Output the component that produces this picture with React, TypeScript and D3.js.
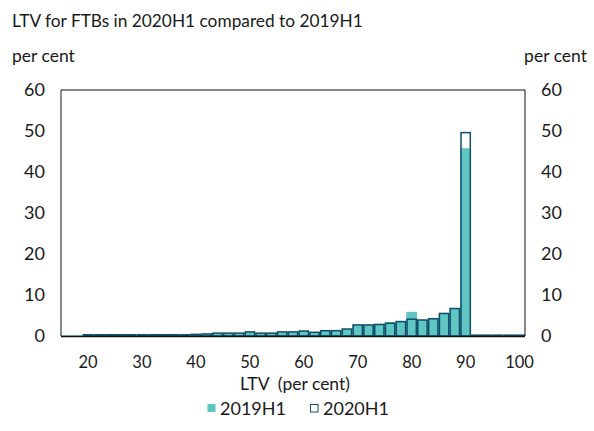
import React from "react";
import * as d3 from "d3";

const categories: number[] = d3.range(16, 101, 2);
const series2019: number[] = [
  0.2, 0.2, 0.3, 0.3, 0.3, 0.3, 0.3, 0.3, 0.3, 0.3, 0.3, 0.3, 0.4, 0.5, 0.7, 0.7, 0.7, 1.0, 0.7, 0.7,
  1.0, 1.0, 1.3, 0.9, 1.3, 1.3, 1.7, 2.7, 2.7, 3.0, 3.4, 3.7, 5.9, 3.9, 4.4, 5.5, 6.7, 45.8,
  0.2, 0.2, 0.2, 0.2, 0.2,
];
const series2020: number[] = [
  0.0, 0.0, 0.3, 0.3, 0.3, 0.3, 0.3, 0.3, 0.3, 0.3, 0.3, 0.3, 0.4, 0.5, 0.7, 0.7, 0.7, 1.0, 0.7, 0.7,
  1.0, 1.0, 1.2, 0.9, 1.3, 1.3, 1.7, 2.7, 2.7, 2.8, 3.1, 3.5, 4.1, 3.9, 4.2, 5.5, 6.7, 49.6,
  0.2, 0.2, 0.2, 0.2, 0.2,
];
const yTicks: number[] = [0, 10, 20, 30, 40, 50, 60];
const xTickLabels: number[] = [20, 30, 40, 50, 60, 70, 80, 90, 100];

const W = 594;
const H = 431;
const M = { left: 61, right: 525, top: 90, bottom: 336 };
const TEAL = "#5fc6c1";
const DARK = "#0e4d6b";
const FONT = "Lato, 'Open Sans', sans-serif";
const TXT = "#1a1a1a";

export default function App() {
  const x = d3
    .scaleBand<number>()
    .domain(categories)
    .range([M.left, M.right])
    .paddingInner(0)
    .paddingOuter(0);
  const y = d3.scaleLinear().domain([0, 60]).range([M.bottom, M.top]);
  const bw = x.bandwidth();

  return (
    <svg
      width={W}
      height={H}
      style={{ position: "absolute", left: 0, top: 0 }}
      fontFamily={FONT}
    >
      <rect width={W} height={H} fill="#fff" />
      <text x={12} y={27} fontSize={17.3} fill={TXT}>
        LTV for FTBs in 2020H1 compared to 2019H1
      </text>
      <text x={12} y={62} fontSize={17.5} fill={TXT}>
        per cent
      </text>
      <text x={587} y={62} fontSize={17.5} fill={TXT} textAnchor="end">
        per cent
      </text>

      {categories.map((c, i) => (
        <rect
          key={"a" + c}
          x={x(c)!}
          y={y(series2019[i])}
          width={bw}
          height={y(0) - y(series2019[i])}
          fill={TEAL}
        />
      ))}
      {categories.map((c, i) =>
        series2020[i] > 0 ? (
          <rect
            key={"b" + c}
            x={x(c)! + 0.75}
            y={y(series2020[i])}
            width={bw - 1.5}
            height={y(0) - y(series2020[i])}
            fill="none"
            stroke={DARK}
            strokeWidth={1.5}
          />
        ) : null
      )}

      <line x1={M.left} x2={M.right} y1={M.top} y2={M.top} stroke="#111" strokeWidth={1} />
      <line x1={M.left} x2={M.left} y1={M.top} y2={M.bottom} stroke="#111" strokeWidth={1} />
      <line x1={M.right} x2={M.right} y1={M.top} y2={M.bottom} stroke="#111" strokeWidth={1} />
      <line x1={M.left} x2={M.right} y1={M.bottom + 0.5} y2={M.bottom + 0.5} stroke="#111" strokeWidth={1.5} />

      {yTicks.map((t) => (
        <g key={"y" + t}>
          <text x={45} y={y(t)} dy="0.35em" fontSize={18} textAnchor="end" fill={TXT}>
            {t}
          </text>
          <text x={541} y={y(t)} dy="0.35em" fontSize={18} textAnchor="start" fill={TXT}>
            {t}
          </text>
        </g>
      ))}
      {xTickLabels.map((t) => (
        <text
          key={"x" + t}
          x={x(t)! + bw / 2}
          y={362}
          dy="0.35em"
          fontSize={16.5}
          textAnchor="middle"
          fill={TXT}
        >
          {t}
        </text>
      ))}
      <text x={295} y={384} dy="0.35em" fontSize={17.5} textAnchor="middle" fill={TXT}>
        {"LTV\u00a0 (per cent)"}
      </text>

      <rect x={207.5} y={404} width={8} height={8} fill={TEAL} />
      <text x={220} y={409} dy="0.35em" fontSize={18} fill={TXT}>
        2019H1
      </text>
      <rect x={310.5} y={404.5} width={7.5} height={7.5} fill="none" stroke={DARK} strokeWidth={1} />
      <text x={323} y={409} dy="0.35em" fontSize={18} fill={TXT}>
        2020H1
      </text>
    </svg>
  );
}
